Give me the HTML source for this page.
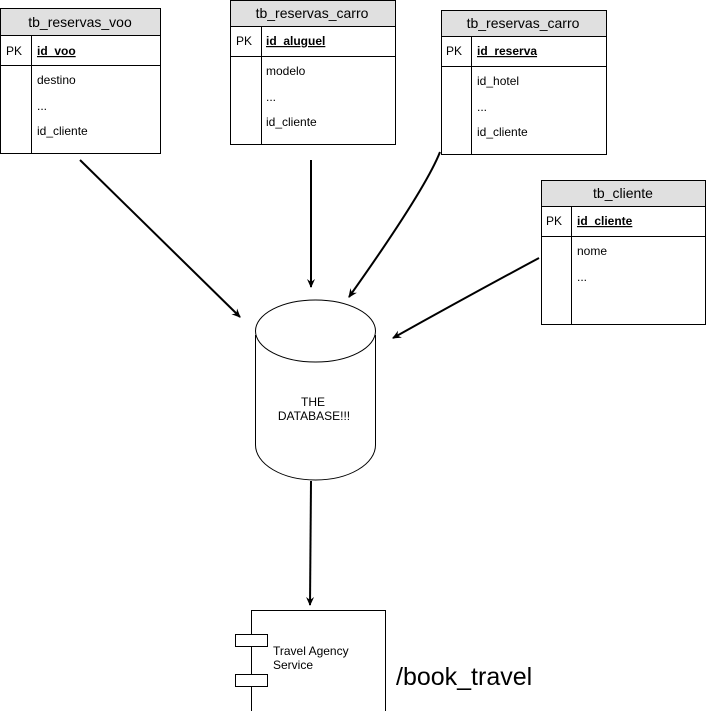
<!DOCTYPE html>
<html><head><meta charset="utf-8"><style>
body{margin:0;background:#fff;width:706px;height:711px;overflow:hidden}
svg{font-family:"Liberation Sans",Arial,sans-serif}
</style></head><body>
<svg width="706" height="711" viewBox="0 0 706 711" xmlns="http://www.w3.org/2000/svg">
<defs><marker id="a" markerWidth="10" markerHeight="10" refX="8" refY="5" orient="auto" markerUnits="userSpaceOnUse"><path d="M0,1 L9,5 L0,9 L3,5 Z" fill="#000"/></marker></defs>
<g stroke="#000" fill="none" stroke-width="1">
<rect x="0.5" y="8.5" width="160" height="145" fill="#fff"/>
<rect x="0.5" y="8.5" width="160" height="27" fill="#e0e0e0"/>
<line x1="0" y1="65.5" x2="160" y2="65.5"/><line x1="31.5" y1="36" x2="31.5" y2="153"/>
<rect x="230.5" y="0.5" width="165" height="144" fill="#fff"/>
<rect x="230.5" y="0.5" width="165" height="26" fill="#e0e0e0"/>
<line x1="230" y1="56.5" x2="395" y2="56.5"/><line x1="261.5" y1="27" x2="261.5" y2="144"/>
<rect x="441.5" y="10.5" width="165" height="144" fill="#fff"/>
<rect x="441.5" y="10.5" width="165" height="26" fill="#e0e0e0"/>
<line x1="441" y1="66.5" x2="606" y2="66.5"/><line x1="471.5" y1="37" x2="471.5" y2="154"/>
<rect x="541.5" y="180.5" width="164" height="144" fill="#fff"/>
<rect x="541.5" y="180.5" width="164" height="26" fill="#e0e0e0"/>
<line x1="541" y1="236.5" x2="705" y2="236.5"/><line x1="571.5" y1="207" x2="571.5" y2="324"/>
<g stroke-width="2">
<line x1="80" y1="160" x2="240" y2="317" marker-end="url(#a)"/>
<line x1="311" y1="160" x2="311" y2="287" marker-end="url(#a)"/>
<path d="M440,152 Q425,190 349,297" marker-end="url(#a)"/>
<path d="M539,258 Q470,295 393,338" marker-end="url(#a)"/>
<line x1="311" y1="481" x2="310" y2="605" marker-end="url(#a)"/>
</g>
<path d="M255.5,335 L255.5,445 A60,35 0 0 0 375.5,445 L375.5,335" fill="#fff"/>
<ellipse cx="315.5" cy="331" rx="60" ry="31" fill="#fff"/>
<rect x="251.5" y="610.5" width="134" height="110" fill="#fff"/>
<rect x="235.5" y="634.5" width="32" height="12" fill="#fff"/>
<rect x="235.5" y="674.5" width="32" height="12" fill="#fff"/>
</g>
<g font-size="12" fill="#000">
<text x="80" y="27" text-anchor="middle" font-size="14">tb_reservas_voo</text>
<text x="6" y="55">PK</text><text x="37" y="55" font-weight="bold" text-decoration="underline">id_voo</text>
<text x="37" y="84">destino</text><text x="37" y="110">...</text><text x="37" y="135">id_cliente</text>
<text x="312" y="18" text-anchor="middle" font-size="14">tb_reservas_carro</text>
<text x="236" y="45">PK</text><text x="266" y="45" font-weight="bold" text-decoration="underline">id_aluguel</text>
<text x="266" y="75">modelo</text><text x="266" y="101">...</text><text x="266" y="126">id_cliente</text>
<text x="523" y="28" text-anchor="middle" font-size="14">tb_reservas_carro</text>
<text x="446" y="55">PK</text><text x="477" y="55" font-weight="bold" text-decoration="underline">id_reserva</text>
<text x="477" y="85">id_hotel</text><text x="477" y="111">...</text><text x="477" y="136">id_cliente</text>
<text x="623" y="198" text-anchor="middle" font-size="14">tb_cliente</text>
<text x="546" y="225">PK</text><text x="577" y="225" font-weight="bold" text-decoration="underline">id_cliente</text>
<text x="577" y="255">nome</text><text x="577" y="281">...</text>
<text x="313" y="406" text-anchor="middle">THE</text>
<text x="314" y="420" text-anchor="middle">DATABASE!!!</text>
<text x="273" y="655">Travel Agency</text>
<text x="273" y="669">Service</text>
<text x="396" y="685" font-size="25">/book_travel</text>
</g>
</svg>
</body></html>
